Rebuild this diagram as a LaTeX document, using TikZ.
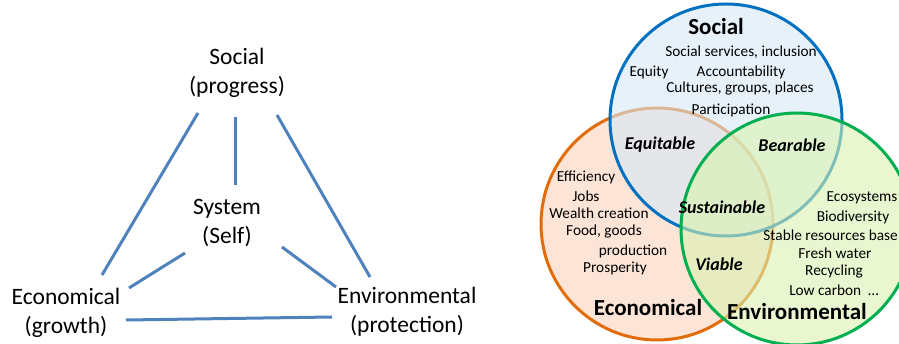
\documentclass[tikz,border=0pt]{standalone}
\usepackage{fontspec}
\setmainfont{Carlito}
\usetikzlibrary{positioning}

\definecolor{linkblue}{HTML}{4F81BD}
\definecolor{socblue}{HTML}{0070C0}
\definecolor{ecoorange}{HTML}{E36C0A}
\definecolor{envgreen}{HTML}{00B050}
\definecolor{socfill}{HTML}{D6E8F6}
\definecolor{ecofill}{HTML}{FCE4D6}
\definecolor{envfill}{HTML}{D8F2B0}

\begin{document}
\begin{tikzpicture}[x=1pt,y=-1pt,
            pillar/.style={align=center,inner sep=0,font=\fontsize{23.5}{29}\selectfont},
            link/.style={draw,line width=3pt,linkblue},
            ring/.style={line width=3pt,fill opacity=.6},
            item/.style={inner sep=0,font=\fontsize{15.3}{18}\selectfont},
            title/.style={inner sep=0,font=\fontsize{23}{28}\selectfont\bfseries},
            overlap/.style={inner sep=0,font=\fontsize{18}{22}\selectfont\bfseries\itshape}
          ]
          \useasboundingbox (0,0) rectangle (899,344);

          %triangle
          \node[pillar] (soc) at (237,73) {Social\\(progress)};
          \node[pillar] (sys) at (227,223) {System\\(Self)};
          \node[pillar] (eco) at (66,313) {Economical\\(growth)};
          \node[pillar] (env) at (407,312) {Environmental\\(protection)};

          \path[link]
          ([shift={(-39,40)}]soc.center) edge ([shift={(36,-38)}]eco.center)
          ([shift={(-2,44)}]soc.center) edge ([shift={(8,-38)}]sys.center)
          ([shift={(40,42)}]soc.center) edge ([shift={(-37,-35)}]env.center)
          ([shift={(-42,30)}]sys.center) edge ([shift={(63,-25)}]eco.center)
          ([shift={(55,24)}]sys.center) edge ([shift={(-71,-25)}]env.center)
          ([shift={(60,7)}]eco.center) edge ([shift={(-75,5)}]env.center)
          ;

          %venn circles
          \draw[ring,ecoorange,fill=ecofill,fill opacity=1] (657,224) circle (116);
          \draw[ring,socblue,fill=socfill] (726,120) circle (116);
          \draw[ring,envgreen,fill=envfill] (797,229) circle (116);

          %labels
          \node[title] (socT) at (716,27) {Social};
          \node[title] (ecoT) at (648,308) {Economical};
          \node[title] (envT) at (797,312) {Environmental};

          \node[overlap] (equ) at (660,145) {Equitable};
          \node[overlap] (bear) at (792,145) {Bearable};
          \node[overlap] (sust) at (722,207) {Sustainable};
          \node[overlap] (via) at (719,264) {Viable};

          \node[item] (s1) at (741,52) {Social services, inclusion};
          \node[item] (s2) at (649,72) {Equity};
          \node[item] (s3) at (741,72) {Accountability};
          \node[item] (s4) at (740,89) {Cultures, groups, places};
          \node[item] (s5) at (731,110) {Participation};

          \node[item] (e1) at (586,177) {Efficiency};
          \node[item] (e2) at (586,196) {Jobs};
          \node[item] (e3) at (599,213) {Wealth creation};
          \node[item] (e4) at (604,232) {Food, goods};
          \node[item] (e5) at (633,251) {production};
          \node[item] (e6) at (615,268) {Prosperity};

          \node[item] (n1) at (862,198) {Ecosystems};
          \node[item] (n2) at (853,217) {Biodiversity};
          \node[item,anchor=east] (n3) at (898,235) {Stable resources base};
          \node[item] (n4) at (835,253) {Fresh water};
          \node[item] (n5) at (834,272) {Recycling};
          \node[item] (n6) at (834,290) {Low carbon~~\dots};

      \end{tikzpicture}
\end{document}
